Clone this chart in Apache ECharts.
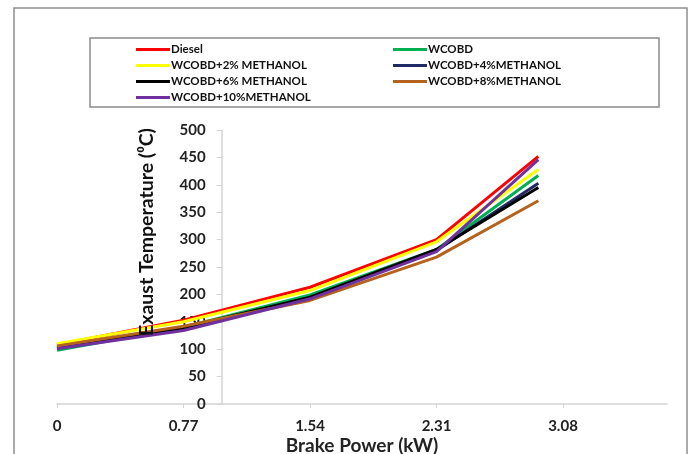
<!DOCTYPE html>
<html>
<head>
<meta charset="utf-8">
<script src="https://cdn.jsdelivr.net/npm/echarts@6/dist/echarts.min.js"></script>
<style>
html,body{margin:0;padding:0;background:#fff;}
#main{width:691px;height:454px;}
</style>
</head>
<body>
<div id="main"></div>
<script>
// Brake power (kW) at which readings were taken
var brakePower = [0, 0.77, 1.54, 2.31, 2.93];
var xTickLabels = [0, 0.77, 1.54, 2.31, 3.08];

var seriesNames = ['Diesel', 'WCOBD', 'WCOBD+2% METHANOL', 'WCOBD+4%METHANOL', 'WCOBD+6% METHANOL', 'WCOBD+8%METHANOL', 'WCOBD+10%METHANOL'];

var diesel   = [108, 153, 213, 300, 452];
var wcobd    = [98, 140, 199, 282, 417];
var meth2    = [110, 150, 207, 296, 428];
var meth4    = [102, 138, 194, 280, 403];
var meth6    = [104, 139, 195, 282, 395];
var meth8    = [106, 142, 189, 268, 371];
var meth10   = [101, 134, 192, 278, 446];

var colors = ['#ff0000', '#00b050', '#ffff00', '#1f2a66', '#000000', '#b5621c', '#7030a0'];
var allValues = [diesel, wcobd, meth2, meth4, meth6, meth8, meth10];

function pairs(vals){ return brakePower.map(function(x,i){ return [x, vals[i]]; }); }

var FONT = 'Lato';
var series = seriesNames.map(function(n, i){
  return {
    name: n, type: 'line', data: pairs(allValues[i]),
    symbol: 'none', smooth: false,
    lineStyle: {color: colors[i], width: 3},
    itemStyle: {color: colors[i]},
    z: 2
  };
});

var legendText = {fontFamily: FONT, fontWeight: 'bold', fontSize: 11.5, lineHeight: 13, color: '#111', padding: [0,0,0,-4]};
var chart = echarts.init(document.getElementById('main'), null, {renderer: 'canvas'});
var pxPerUnit = (563 - 57) / 3.08;
chart.setOption({
  animation: false,
  backgroundColor: '#ffffff',
  grid: {left: 57, right: 24, top: 130, bottom: 50, containLabel: false, outerBoundsMode: 'none'},
  legend: [
    {
      data: [seriesNames[0], seriesNames[2], seriesNames[4], seriesNames[6]],
      orient: 'vertical', left: 131, top: 38, icon: 'rect',
      itemWidth: 34, itemHeight: 3, itemGap: 3,
      textStyle: legendText
    },
    {
      data: [seriesNames[1], seriesNames[3], seriesNames[5]],
      orient: 'vertical', left: 388, top: 38, icon: 'rect',
      itemWidth: 34, itemHeight: 3, itemGap: 3,
      textStyle: legendText
    }
  ],
  xAxis: {
    type: 'value', min: 0, max: (667 - 57) / pxPerUnit,
    name: 'Brake Power (kW)', nameLocation: 'middle', nameGap: 32, nameMoveOverlap: false,
    nameTextStyle: {fontFamily: FONT, fontWeight: 'bold', fontSize: 19, color: '#222'},
    axisLine: {show: true, onZero: false, lineStyle: {color: '#d4d4d4', width: 1.5}},
    axisTick: {show: true, length: 4, customValues: xTickLabels, lineStyle: {color: '#d4d4d4'}},
    axisLabel: {customValues: xTickLabels, fontFamily: FONT, fontWeight: 'bold', fontSize: 15, color: '#222', margin: 15,
      formatter: function(v){ return String(v); }},
    splitLine: {show: false}
  },
  yAxis: {
    type: 'value', min: 0, max: 500, interval: 50,
    position: 'left', offset: -(221.7 - 57),
    axisLine: {show: true, onZero: false, lineStyle: {color: '#d4d4d4', width: 1.5}},
    axisTick: {show: true, length: 5, lineStyle: {color: '#d4d4d4'}},
    axisLabel: {fontFamily: FONT, fontWeight: 'bold', fontSize: 15, color: '#222', margin: 16},
    splitLine: {show: false}
  },
  graphic: [
    {type: 'rect', shape: {x: 14, y: 8, width: 673, height: 470}, style: {fill: 'none', stroke: '#8e8e8e', lineWidth: 1.5}, z: -1, silent: true},
    {type: 'rect', shape: {x: 90, y: 38, width: 569, height: 69}, style: {fill: 'none', stroke: '#8a8a8a', lineWidth: 1.5}, z: -1, silent: true},
    {type: 'text', x: 147, y: 232, rotation: Math.PI / 2,
      style: {text: 'Exaust Temperature (\u2070C)', fontFamily: FONT, fontWeight: 'bold', fontSize: 19.5, fill: '#111', textAlign: 'center', textVerticalAlign: 'middle'}, z: 10}
  ],
  series: series
});
</script>
</body>
</html>
